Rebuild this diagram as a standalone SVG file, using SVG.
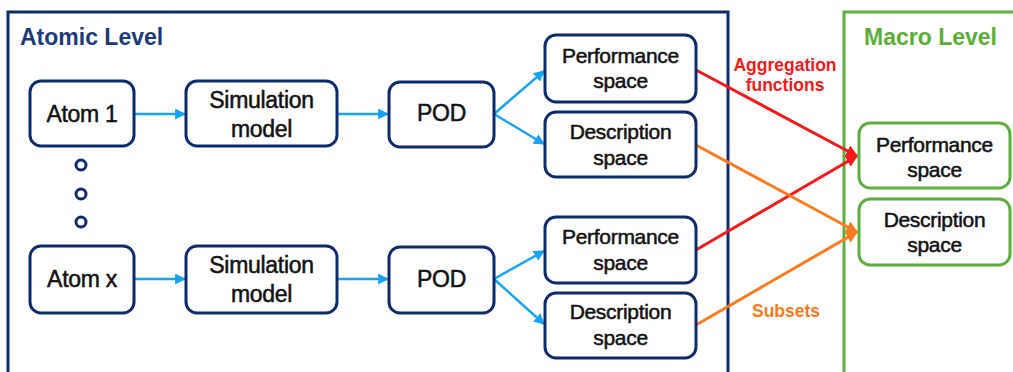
<svg xmlns="http://www.w3.org/2000/svg" width="1013" height="372" viewBox="0 0 1013 372">
<defs>
<style>
.node rect{fill:#fff;stroke:#0E2A6B;stroke-width:3}
.mnode rect{fill:#fff;stroke:#5DAE3F;stroke-width:3}
.t{font-family:"Liberation Sans",Arial,sans-serif;fill:#111;stroke:#111;stroke-width:0.5;text-anchor:middle;letter-spacing:-0.3px}
.big{font-size:23px}
.sm{font-size:21px}
.title{font-family:"Liberation Sans",Arial,sans-serif;font-weight:bold;font-size:23px}
.lbl{font-family:"Liberation Sans",Arial,sans-serif;font-weight:bold;font-size:17.5px;text-anchor:middle}
.blue{stroke:#18A3F2;stroke-width:2.5;fill:none}
.red{stroke:#F51A1A;stroke-width:3;fill:none}
.orange{stroke:#FF7A1E;stroke-width:3;fill:none}
</style>
<marker id="ab" viewBox="0 0 10 10" refX="9" refY="5" markerWidth="4.4" markerHeight="4.4" orient="auto" markerUnits="strokeWidth"><path d="M0,0 L10,5 L0,10 z" fill="#18A3F2"/></marker>
<marker id="ar" viewBox="0 0 10 10" refX="9" refY="5" markerWidth="4" markerHeight="4" orient="auto" markerUnits="strokeWidth"><path d="M0,0 L10,5 L0,10 z" fill="#F51A1A"/></marker>
<marker id="ao" viewBox="0 0 10 10" refX="9" refY="5" markerWidth="4" markerHeight="4" orient="auto" markerUnits="strokeWidth"><path d="M0,0 L10,5 L0,10 z" fill="#FF7A1E"/></marker>
</defs>
<rect width="1013" height="372" fill="#fff"/>
<g id="atomic-frame">
<rect x="8" y="12" width="720" height="380" fill="none" stroke="#0E2A6B" stroke-width="3"/>
<text class="title" x="20" y="45" fill="#1C3A7A">Atomic Level</text>
</g>
<g id="macro-frame">
<rect x="844" y="12" width="190" height="380" fill="none" stroke="#5DAE3F" stroke-width="3"/>
<text class="title" x="864" y="45" fill="#5AAE38">Macro Level</text>
</g>
<g id="dots" fill="#fff" stroke="#0E2A6B" stroke-width="3">
<circle cx="81" cy="165" r="5"/>
<circle cx="81" cy="194" r="5"/>
<circle cx="81" cy="222" r="5"/>
</g>
<g id="connectors">
<line class="blue" x1="135" y1="114" x2="185" y2="114" marker-end="url(#ab)"/>
<line class="blue" x1="337" y1="114" x2="388" y2="114" marker-end="url(#ab)"/>
<line class="blue" x1="494" y1="114" x2="544" y2="71" marker-end="url(#ab)"/>
<line class="blue" x1="494" y1="114" x2="544" y2="144" marker-end="url(#ab)"/>
<line class="blue" x1="135" y1="279" x2="185" y2="279" marker-end="url(#ab)"/>
<line class="blue" x1="337" y1="279" x2="388" y2="279" marker-end="url(#ab)"/>
<line class="blue" x1="494" y1="279" x2="544" y2="251" marker-end="url(#ab)"/>
<line class="blue" x1="494" y1="279" x2="544" y2="324" marker-end="url(#ab)"/>
<line class="red" x1="696" y1="70" x2="857" y2="156" marker-end="url(#ar)"/>
<line class="red" x1="696" y1="250" x2="857" y2="156" marker-end="url(#ar)"/>
<line class="orange" x1="696" y1="145" x2="857" y2="232" marker-end="url(#ao)"/>
<line class="orange" x1="696" y1="325" x2="857" y2="232" marker-end="url(#ao)"/>
<text class="lbl" x="785" y="71" fill="#F51A1A">Aggregation</text>
<text class="lbl" x="785" y="91" fill="#F51A1A">functions</text>
<text class="lbl" x="786" y="317" fill="#FF7A1E">Subsets</text>
</g>
<g id="atom1" class="node"><rect x="30" y="81" width="104" height="65" rx="11"/><text class="t big" x="82" y="122">Atom 1</text></g>
<g id="sim1" class="node"><rect x="186" y="81" width="151" height="65" rx="11"/><text class="t big" x="261.5" y="108">Simulation</text><text class="t big" x="261.5" y="137">model</text></g>
<g id="pod1" class="node"><rect x="389" y="82" width="105" height="65" rx="11"/><text class="t big" x="441.5" y="121">POD</text></g>
<g id="perf1" class="node"><rect x="545" y="35" width="151" height="67" rx="11"/><text class="t sm" x="620.5" y="63">Performance</text><text class="t sm" x="620.5" y="88">space</text></g>
<g id="desc1" class="node"><rect x="545" y="112" width="151" height="65" rx="11"/><text class="t sm" x="620.5" y="139">Description</text><text class="t sm" x="620.5" y="165">space</text></g>
<g id="atomx" class="node"><rect x="30" y="246" width="104" height="67" rx="11"/><text class="t big" x="82" y="287">Atom x</text></g>
<g id="sim2" class="node"><rect x="186" y="246" width="151" height="67" rx="11"/><text class="t big" x="261.5" y="273">Simulation</text><text class="t big" x="261.5" y="302">model</text></g>
<g id="pod2" class="node"><rect x="389" y="247" width="105" height="66" rx="11"/><text class="t big" x="441.5" y="287">POD</text></g>
<g id="perf2" class="node"><rect x="545" y="217" width="151" height="66" rx="11"/><text class="t sm" x="620.5" y="244">Performance</text><text class="t sm" x="620.5" y="270">space</text></g>
<g id="desc2" class="node"><rect x="545" y="293" width="151" height="65" rx="11"/><text class="t sm" x="620.5" y="319">Description</text><text class="t sm" x="620.5" y="345">space</text></g>
<g id="macro-perf" class="mnode"><rect x="859" y="123" width="151" height="65" rx="11"/><text class="t sm" x="934.5" y="152">Performance</text><text class="t sm" x="934.5" y="177">space</text></g>
<g id="macro-desc" class="mnode"><rect x="859" y="199" width="151" height="66" rx="11"/><text class="t sm" x="934.5" y="227">Description</text><text class="t sm" x="934.5" y="252">space</text></g>
</svg>
